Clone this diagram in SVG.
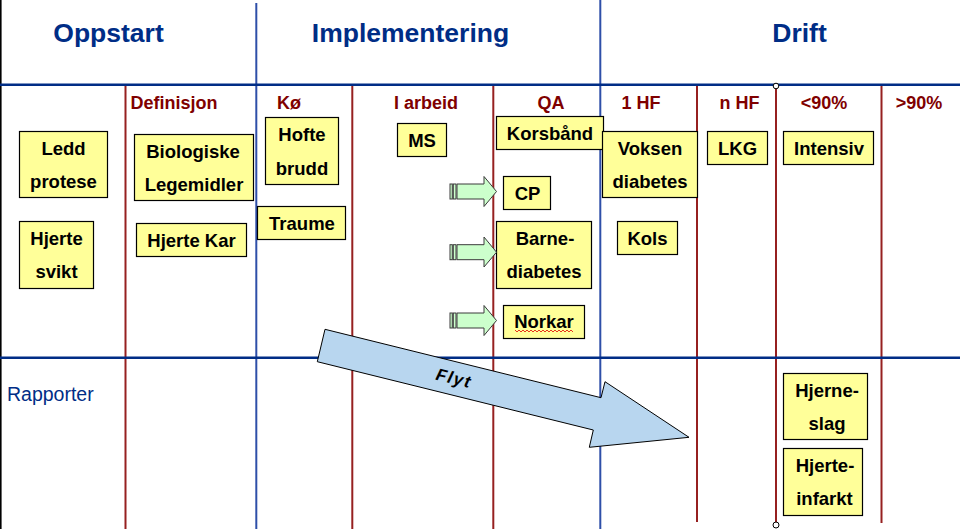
<svg xmlns="http://www.w3.org/2000/svg" width="960" height="529" viewBox="0 0 960 529">
<style>
.bg{fill:#fff}
.hline{stroke:#002D86;stroke-width:2.5}
.vblue{stroke:#2E4FA8;stroke-width:2}
.vred{stroke:#962020;stroke-width:2}
.hdr{font-family:"Liberation Sans",Arial,sans-serif;font-weight:bold;font-size:26.5px;fill:#002D86;text-anchor:middle}
.sub{font-family:"Liberation Sans",Arial,sans-serif;font-weight:bold;font-size:18px;fill:#800000;text-anchor:middle}
.box{fill:#FFFF99;stroke:#000;stroke-width:1.2}
.t{font-family:"Liberation Sans",Arial,sans-serif;font-weight:bold;font-size:18.5px;fill:#000;text-anchor:middle}
.ga{fill:#CCFFCC;stroke:#3A3A3A;stroke-width:1}
.flyt{fill:#B8D6EF;stroke:#000;stroke-width:1}
.rap{font-family:"Liberation Sans",Arial,sans-serif;font-size:19.5px;fill:#002D86}
.dot{fill:#fff;stroke:#000;stroke-width:1}
</style>
<rect class="bg" x="0" y="0" width="960" height="529"/>
<g id="grid">
  <line x1="0.8" y1="0" x2="0.8" y2="529" stroke="#000" stroke-width="1.6"/>
  <line class="vred" x1="125.5" y1="85" x2="125.5" y2="529"/>
  <line class="vred" x1="352.3" y1="85" x2="352.3" y2="529"/>
  <line class="vred" x1="493.3" y1="85" x2="493.3" y2="529"/>
  <line class="vred" x1="697" y1="85" x2="697" y2="522"/>
  <line class="vred" x1="776" y1="85" x2="776" y2="523"/>
  <line class="vred" x1="881.5" y1="85" x2="881.5" y2="523"/>
  <line class="vblue" x1="256.3" y1="3" x2="256.3" y2="529"/>
  <line class="vblue" x1="600.3" y1="0" x2="600.3" y2="529"/>
  <line class="hline" x1="0" y1="84.7" x2="960" y2="84.7"/>
  <line class="hline" x1="0" y1="357.8" x2="960" y2="357.8"/>
  <circle class="dot" cx="776" cy="86" r="2.8"/>
  <circle class="dot" cx="776" cy="525" r="3"/>
</g>
<g id="headers">
  <text class="hdr" x="108.5" y="42">Oppstart</text>
  <text class="hdr" x="410.5" y="42">Implementering</text>
  <text class="hdr" x="799.5" y="42">Drift</text>
  <text class="sub" x="174" y="108.5">Definisjon</text>
  <text class="sub" x="289" y="108.5">Kø</text>
  <text class="sub" x="426" y="108.5">I arbeid</text>
  <text class="sub" x="551" y="108.5">QA</text>
  <text class="sub" x="641" y="108.5">1 HF</text>
  <text class="sub" x="739.5" y="108.5">n HF</text>
  <text class="sub" x="824" y="108.5">&lt;90%</text>
  <text class="sub" x="919" y="108.5">&gt;90%</text>
  <text class="rap" x="7" y="401">Rapporter</text>
</g>
<g id="n-ledd"><rect class="box" x="19.5" y="131.5" width="88" height="66"/><text class="t" x="63.5" y="155">Ledd</text><text class="t" x="63.5" y="188">protese</text></g>
<g id="n-hjertesvikt"><rect class="box" x="19.5" y="221.5" width="74" height="67"/><text class="t" x="56.5" y="245">Hjerte</text><text class="t" x="56.5" y="278">svikt</text></g>
<g id="n-bio"><rect class="box" x="134.5" y="134.5" width="119" height="66"/><text class="t" x="193" y="158">Biologiske</text><text class="t" x="194" y="191">Legemidler</text></g>
<g id="n-hjertekar"><rect class="box" x="136.5" y="223.5" width="110" height="33"/><text class="t" x="191.5" y="246.8">Hjerte Kar</text></g>
<g id="n-hofte"><rect class="box" x="265.5" y="117.5" width="73" height="67"/><text class="t" x="302" y="141">Hofte</text><text class="t" x="302" y="175">brudd</text></g>
<g id="n-traume"><rect class="box" x="257.5" y="206.5" width="88" height="33"/><text class="t" x="302" y="230">Traume</text></g>
<g id="n-ms"><rect class="box" x="397.5" y="123.5" width="49" height="33"/><text class="t" x="422" y="147">MS</text></g>
<g id="n-korsband"><rect class="box" x="496.5" y="116.5" width="107" height="33"/><text class="t" x="550" y="140">Korsbånd</text></g>
<g id="n-cp"><rect class="box" x="503.5" y="176.5" width="47" height="33"/><text class="t" x="527.5" y="200">CP</text></g>
<g id="n-barne"><rect class="box" x="496.5" y="221.5" width="95" height="67"/><text class="t" x="545" y="245">Barne-</text><text class="t" x="544" y="278">diabetes</text></g>
<g id="n-norkar"><rect class="box" x="503.5" y="305.5" width="81" height="33"/><text class="t" x="544" y="328">Norkar</text>
  <polyline points="515,330 517,332 519,330 521,332 523,330 525,332 527,330 529,332 531,330 533,332 535,330 537,332 539,330 541,332 543,330 545,332 547,330 549,332 551,330 553,332 555,330 557,332 559,330 561,332 563,330 565,332 567,330 569,332 571,330 573,332" fill="none" stroke="#E00000" stroke-width="0.8"/></g>
<g id="n-voksen"><rect class="box" x="602.5" y="131.5" width="95" height="66"/><text class="t" x="650" y="155">Voksen</text><text class="t" x="650" y="188">diabetes</text></g>
<g id="n-kols"><rect class="box" x="617.5" y="221.5" width="60" height="33"/><text class="t" x="647.5" y="245">Kols</text></g>
<g id="n-lkg"><rect class="box" x="707.5" y="131.5" width="60" height="33"/><text class="t" x="737.5" y="155">LKG</text></g>
<g id="n-intensiv"><rect class="box" x="783.5" y="131.5" width="90" height="33"/><text class="t" x="829" y="155">Intensiv</text></g>
<g id="n-hjerneslag"><rect class="box" x="783.5" y="373.5" width="84" height="66"/><text class="t" x="827" y="397">Hjerne-</text><text class="t" x="827" y="430">slag</text></g>
<g id="n-hjerteinfarkt"><rect class="box" x="783.5" y="448.5" width="79" height="67"/><text class="t" x="825" y="472">Hjerte-</text><text class="t" x="824.5" y="505">infarkt</text></g>
<g id="connectors">
  <g id="a-cp">
    <rect class="ga" x="450" y="184" width="2.3" height="15"/>
    <rect class="ga" x="453.3" y="184" width="2.7" height="15"/>
    <polygon class="ga" points="457,184 484,184 484,176.5 496.5,191.5 484,206.5 484,199 457,199"/>
  </g>
  <g id="a-barne">
    <rect class="ga" x="450" y="244.7" width="2.3" height="15"/>
    <rect class="ga" x="453.3" y="244.7" width="2.7" height="15"/>
    <polygon class="ga" points="457,244.7 484,244.7 484,237 496.5,252.2 484,267 484,259.7 457,259.7"/>
  </g>
  <g id="a-norkar">
    <rect class="ga" x="450" y="313" width="2.3" height="15"/>
    <rect class="ga" x="453.3" y="313" width="2.7" height="15"/>
    <polygon class="ga" points="457,313 484,313 484,305.5 496.5,320.5 484,335.5 484,328 457,328"/>
  </g>
  <g id="a-flyt">
    <polygon class="flyt" points="325,329.3 601,397.7 605,381.7 689,437.3 589.3,447.3 593.3,430 317.3,361.7"/>
    <text x="454" y="384" transform="rotate(14 454 378)" font-family="'Liberation Sans',Arial,sans-serif" font-style="italic" font-weight="bold" font-size="17" letter-spacing="1.5" text-anchor="middle" fill="#000">Flyt</text>
  </g>
</g>
</svg>
